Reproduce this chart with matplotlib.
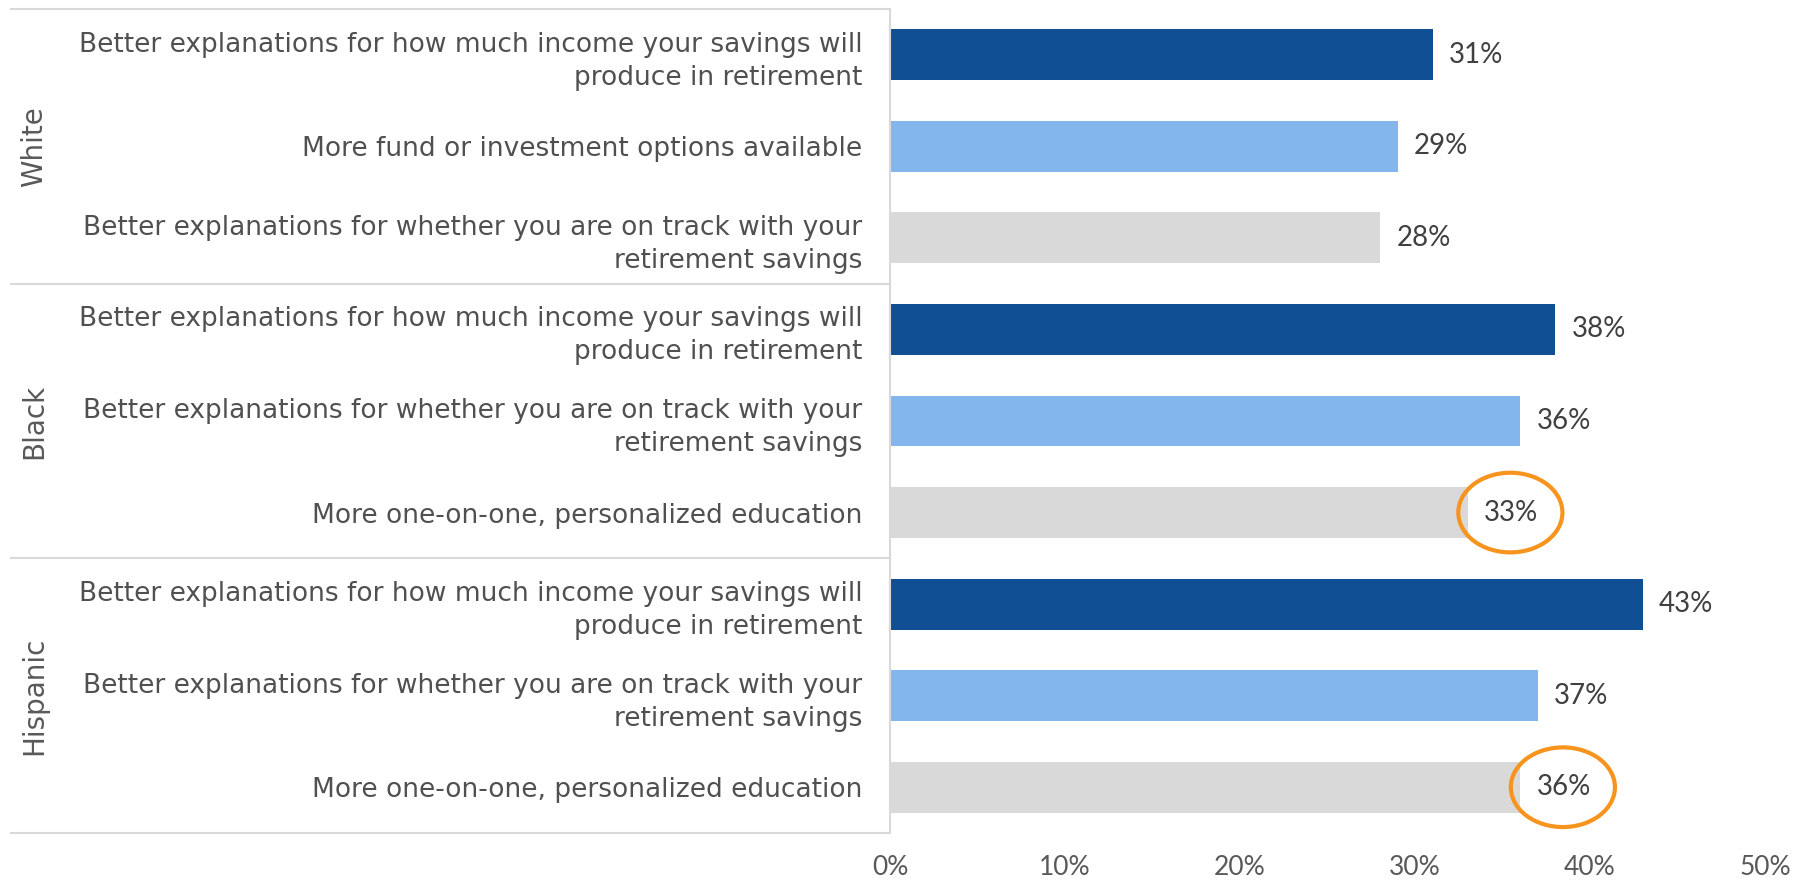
import matplotlib.pyplot as plt
from matplotlib.patches import Ellipse

plt.rcParams['font.family'] = ['DejaVu Sans']

groups = ["White", "Black", "Hispanic"]
labels = [
    "Better explanations for how much income your savings will\nproduce in retirement",
    "More fund or investment options available",
    "Better explanations for whether you are on track with your\nretirement savings",
    "Better explanations for how much income your savings will\nproduce in retirement",
    "Better explanations for whether you are on track with your\nretirement savings",
    "More one-on-one, personalized education",
    "Better explanations for how much income your savings will\nproduce in retirement",
    "Better explanations for whether you are on track with your\nretirement savings",
    "More one-on-one, personalized education",
]
values = [31, 29, 28, 38, 36, 33, 43, 37, 36]
circled = [5, 8]  # bars whose value label gets an orange ring

colors = ["#114F94", "#84B6EE", "#D9D9D9"] * 3
text_color = "#505050"
line_color = "#D9D9D9"

fig = plt.figure(figsize=(18.01, 8.83), dpi=100)
ax = fig.add_axes([890 / 1801, 50 / 883, 875 / 1801, 824 / 883])

y = list(range(len(values)))
ax.barh(y, values, height=0.555, color=colors)

ax.set_xlim(0, 50)
ax.set_ylim(len(values) - 0.5, -0.5)
ax.set_xticks(range(0, 51, 10))
ax.set_xticklabels([f"{t}%" for t in range(0, 51, 10)], family="Lato")
ax.set_yticks(y)
ax.set_yticklabels(labels, fontsize=19, color=text_color, linespacing=1.35)
ax.tick_params(axis="y", length=0, pad=20)
ax.tick_params(axis="x", length=0, pad=16, labelsize=19, labelcolor="#595959")

for s in ["top", "right", "bottom"]:
    ax.spines[s].set_visible(False)
ax.spines["left"].set_color(line_color)
ax.spines["left"].set_linewidth(1.5)

# value labels
for i, v in enumerate(values):
    ax.annotate(f"{v}%", (v, i), xytext=(12, 0), textcoords="offset points",
                va="center", ha="left", fontsize=20, color="#404040",
                family="Lato")

# orange rings around highlighted values
for i in circled:
    ax.add_patch(Ellipse((values[i] + 2.45, i), width=5.95, height=0.87,
                         fill=False, edgecolor="#F7941D", linewidth=3,
                         clip_on=False, zorder=5))

# group boxes on the left
trans = ax.get_yaxis_transform()
for b in [-0.5, 2.5, 5.5, 8.5]:
    ax.plot([-1.005, 0], [b, b], color=line_color, linewidth=1.5,
            transform=trans, clip_on=False)
for g, name in enumerate(groups):
    ax.text(-0.978, g * 3 + 1, name, transform=trans, rotation=90,
            ha="center", va="center", fontsize=20, color="#595959")

fig.savefig("out.png", dpi=100)
